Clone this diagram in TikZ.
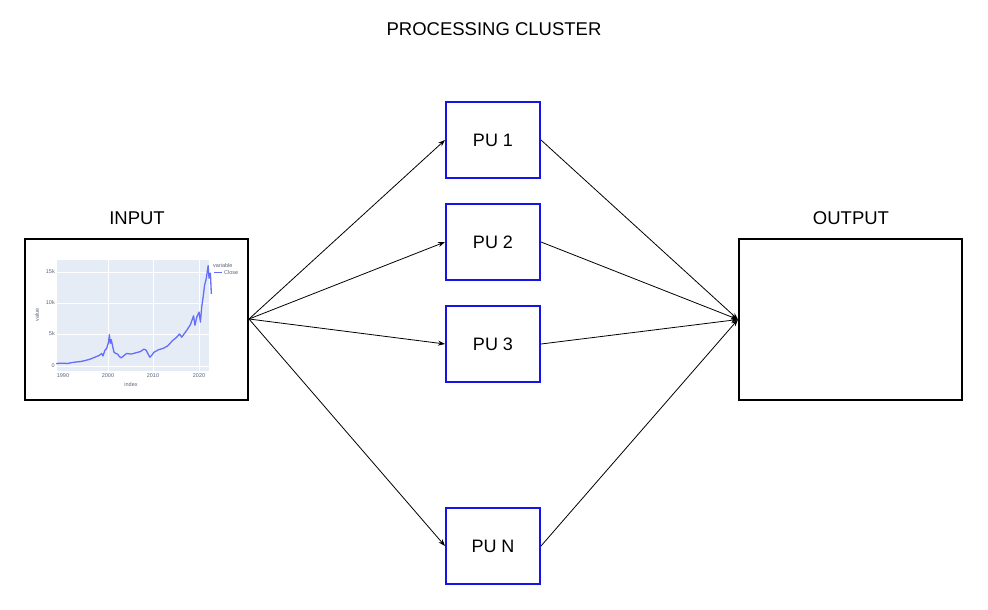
\documentclass[tikz,border=0pt]{standalone}
\usepackage{fontspec}
\setmainfont{Liberation Sans}
\usetikzlibrary{arrows.meta}
\definecolor{publ}{RGB}{20,20,230}
\definecolor{plotbg}{RGB}{229,236,246}
\definecolor{plotln}{RGB}{99,110,250}
\definecolor{ticktx}{RGB}{90,100,120}
\tikzset{
  pubox/.style={draw=publ, line width=2pt, minimum width=94pt, minimum height=76pt, inner sep=0pt, font=\fontsize{18}{20}\selectfont},
  iobox/.style={draw=black, line width=2pt, minimum width=223pt, minimum height=161pt, inner sep=0pt},
  ttl/.style={font=\fontsize{18.5}{20}\selectfont, inner sep=0pt},
  conn/.style={-{Stealth[length=7pt,width=5pt]}, line width=0.8pt},
  tick/.style={font=\fontsize{5.5}{6.5}\selectfont, text=ticktx, inner sep=0pt},
}
\begin{document}
\begin{tikzpicture}[x=1pt,y=-1pt]
\useasboundingbox (0,0) rectangle (988,610);
\node[ttl] (title) at (494,29) {PROCESSING CLUSTER};
\node[ttl] (inlbl) at (137,218) {INPUT};
\node[ttl] (outlbl) at (851,218) {OUTPUT};
\node[iobox] (in) at (136.5,319) {};
\node[iobox] (out) at (850.5,319.5) {};
\node[pubox] (pu1) at (493,140) {PU 1};
\node[pubox] (pu2) at (493,242) {PU 2};
\node[pubox] (pu3) at (493,344) {PU 3};
\node[pubox] (pun) at (493,546) {PU N};
% chart
\fill[plotbg] (57,260) rectangle (209,371);
\foreach \yy in {272,303,334} \draw[white, line width=0.6pt] (57,\yy) -- (209,\yy);
\foreach \xx in {108,153,199} \draw[white, line width=0.6pt] (\xx,260) -- (\xx,371);
\draw[white, line width=0.9pt] (57,366) -- (209,366);
\node[tick, anchor=east] (t0) at (55,366) {0};
\node[tick, anchor=east] (t5) at (55,334) {5k};
\node[tick, anchor=east] (t10) at (55,303) {10k};
\node[tick, anchor=east] (t15) at (55,272) {15k};
\node[tick] (x1990) at (63,376) {1990};
\node[tick] (x2000) at (108,376) {2000};
\node[tick] (x2010) at (153,376) {2010};
\node[tick] (x2020) at (199,376) {2020};
\node[tick] (xl) at (131,384.5) {index};
\node[tick, rotate=90] (yl) at (37,315) {value};
\node[tick, anchor=west] (lg) at (213,266) {variable};
\draw[plotln, line width=0.8pt] (214,272.5) -- (222,272.5);
\node[tick, anchor=west] (lg2) at (224,272.5) {Close};
\begin{scope}[shift={(63,366)}, x=4.55pt, y=6.27pt]
\draw[plotln, line width=1.3pt, line join=round]
 (-1.5,0.4) -- (0,0.45) -- (1,0.4) -- (2,0.55) -- (3,0.65) -- (4,0.72) -- (5,0.9) -- (6,1.1) -- (7,1.4) -- (8,1.7) -- (8.5,2.0) -- (8.8,1.6) -- (9.2,2.5) -- (9.6,2.8) -- (10,3.8) -- (10.2,5.0) -- (10.4,3.6) -- (10.6,4.2) -- (10.9,3.2) -- (11.2,2.2) -- (11.6,2.0) -- (12,1.9) -- (12.4,1.5) -- (12.8,1.3) -- (13.3,1.6) -- (14,2.0) -- (15,1.9) -- (16,2.1) -- (17,2.3) -- (17.8,2.7) -- (18.3,2.5) -- (18.7,1.9) -- (19.1,1.4) -- (19.6,1.8) -- (20,2.2) -- (21,2.6) -- (22,2.8) -- (23,3.2) -- (24,4.0) -- (25,4.6) -- (25.6,5.1) -- (26.1,4.6) -- (26.6,5.1) -- (27.3,5.8) -- (28,6.6) -- (28.7,8.0) -- (29,6.5) -- (29.4,7.8) -- (29.9,8.6) -- (30.2,7.0) -- (30.5,9.5) -- (30.8,11.0) -- (31.1,12.8) -- (31.5,14.0) -- (31.9,16.0) -- (32.1,14.0) -- (32.4,14.8) -- (32.6,11.5);
\end{scope}
% connectors
\draw[conn] (in.east) -- (pu1.west);
\draw[conn] (in.east) -- (pu2.west);
\draw[conn] (in.east) -- (pu3.west);
\draw[conn] (in.east) -- (pun.west);
\draw[conn] (pu1.east) -- (out.west);
\draw[conn] (pu2.east) -- (out.west);
\draw[conn] (pu3.east) -- (out.west);
\draw[conn] (pun.east) -- (out.west);
\end{tikzpicture}
\end{document}
